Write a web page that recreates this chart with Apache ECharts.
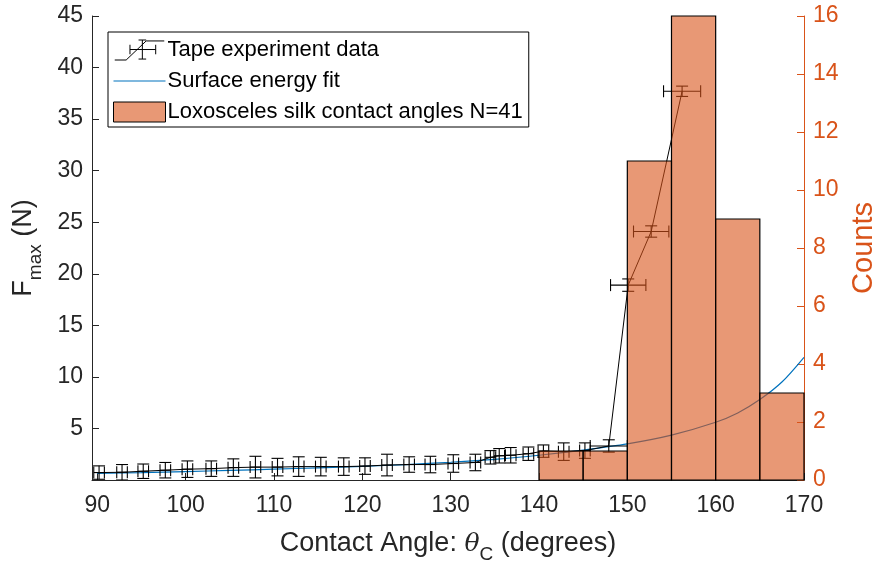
<!DOCTYPE html>
<html>
<head>
<meta charset="utf-8">
<script src="https://cdn.jsdelivr.net/npm/echarts@6/dist/echarts.min.js"></script>
<style>
  html, body { margin: 0; padding: 0; background: #fff; }
  #chart { width: 879px; height: 565px; }
</style>
</head>
<body>
<div id="chart"></div>
<script>
// Tape peel experiments: contact angle (deg) vs. maximum force (N)
const tapeX    = [90.2, 92.8, 95.2, 97.7, 100.2, 102.9, 105.4, 107.9, 110.4, 112.8, 115.3, 117.9, 120.3, 122.8, 125.3, 127.7, 130.3, 132.8, 134.5, 135.5, 136.8, 138.8, 140.5, 142.8, 145.2, 147.9, 150.1, 152.7, 156.2];
const tapeY    = [0.72, 0.75, 0.85, 0.95, 1.05, 1.1, 1.2, 1.25, 1.25, 1.3, 1.3, 1.3, 1.35, 1.45, 1.5, 1.5, 1.6, 1.7, 2.2, 2.35, 2.4, 2.55, 2.8, 2.75, 2.85, 3.3, 18.9, 24.1, 37.7];
const tapeXErr = [0.6, 0.6, 0.6, 0.6, 0.6, 0.6, 0.6, 0.6, 0.6, 0.6, 0.6, 0.6, 0.6, 0.6, 0.6, 0.6, 0.6, 0.6, 0.6, 0.6, 0.6, 0.6, 0.6, 0.6, 0.6, 2.1, 2.0, 2.0, 2.1];
const tapeYErr = [0.65, 0.75, 0.7, 0.75, 0.8, 0.75, 0.85, 1.05, 0.85, 0.95, 0.9, 0.85, 0.8, 1.05, 0.75, 0.8, 0.85, 0.8, 0.65, 0.7, 0.75, 0.65, 0.6, 0.85, 0.75, 0.6, 0.6, 0.55, 0.5];

// Surface energy model curve
const fitX = [90, 95, 100, 105, 110, 115, 120, 125, 130, 135, 140, 145, 150, 155, 160, 162.5, 165, 167.5, 170];
const fitY = [0.65, 0.72, 0.82, 0.93, 1.05, 1.18, 1.32, 1.5, 1.72, 2.0, 2.4, 2.9, 3.5, 4.35, 5.6, 6.5, 7.8, 9.5, 11.9];

// Loxosceles silk contact angle histogram
const binEdges = [140, 145, 150, 155, 160, 165, 170];
const counts   = [1, 1, 11, 16, 9, 3];

// Axis ticks
const xTicks = [90, 100, 110, 120, 130, 140, 150, 160, 170];

const FONT = '"Liberation Sans", Arial, Helvetica, sans-serif';
const INK = '#262626';
const ORANGE = '#D95319';
const BLUE = '#0072BD';
const BAR_FILL = 'rgba(217,83,25,0.6)';

const tapeData = tapeX.map((x, i) => [x, tapeY[i], tapeXErr[i], tapeYErr[i]]);
const fitData = fitX.map((x, i) => [x, fitY[i]]);
const histData = counts.map((c, i) => [binEdges[i], binEdges[i + 1], c]);

const chart = echarts.init(document.getElementById('chart'), null, { renderer: 'canvas' });

function renderErrorBar(params, api) {
  const x = api.value(0), y = api.value(1), xe = api.value(2), ye = api.value(3);
  const c = api.coord([x, y]);
  const l = api.coord([x - xe, y]);
  const r = api.coord([x + xe, y]);
  const t = api.coord([x, y + ye]);
  const b = api.coord([x, y - ye]);
  const cap = 6;
  const st = { stroke: '#000', lineWidth: 1.1, fill: null };
  const seg = (x1, y1, x2, y2) => ({ type: 'line', shape: { x1, y1, x2, y2 }, style: st });
  return {
    type: 'group',
    children: [
      seg(c[0], t[1], c[0], b[1]),
      seg(c[0] - cap, t[1], c[0] + cap, t[1]),
      seg(c[0] - cap, b[1], c[0] + cap, b[1]),
      seg(l[0], c[1], r[0], c[1]),
      seg(l[0], c[1] - cap, l[0], c[1] + cap),
      seg(r[0], c[1] - cap, r[0], c[1] + cap)
    ]
  };
}

function renderBin(params, api) {
  const p0 = api.coord([api.value(0), api.value(2)]);
  const p1 = api.coord([api.value(1), 0]);
  return {
    type: 'rect',
    shape: { x: p0[0], y: p0[1], width: p1[0] - p0[0], height: p1[1] - p0[1] },
    style: { fill: BAR_FILL, stroke: '#000', lineWidth: 1.2 }
  };
}

const option = {
  animation: false,
  backgroundColor: '#fff',
  textStyle: { fontFamily: FONT },
  grid: { left: 92, right: 75, top: 16, bottom: 85, outerBoundsMode: 'none' },
  legend: {
    orient: 'vertical',
    left: 108,
    top: 32,
    padding: [7, 6, 4, 5],
    itemGap: 9,
    itemWidth: 52,
    itemHeight: 20,
    borderColor: '#000',
    borderWidth: 1,
    borderRadius: 0,
    backgroundColor: '#fff',
    textStyle: { fontFamily: FONT, fontSize: 22, color: '#000', lineHeight: 22, padding: [0, 0, 0, -3] },
    data: [
      {
        name: 'Tape experiment data',
        icon: 'path://M0,21L12,21L33,1L52,1M29,0L29,20M25,0L33,0M25,20L33,20M16,10L43,10M16,5L16,15M43,5L43,15',
        itemStyle: { color: 'rgba(0,0,0,0)', borderColor: '#000', borderWidth: 1 }
      },
      {
        name: 'Surface energy fit',
        icon: 'path://M0,0L52,0L52,1.2L0,1.2Z',
        itemStyle: { color: BLUE, borderWidth: 0 }
      },
      {
        name: 'Loxosceles silk contact angles N=41',
        icon: 'rect',
        itemStyle: { color: BAR_FILL, borderColor: '#000', borderWidth: 1 }
      }
    ]
  },
  xAxis: {
    type: 'value',
    min: 89.4,
    max: 170,
    name: '{n|Contact Angle: }{i|θ}{s|C}{n| (degrees)}',
    nameLocation: 'middle',
    nameGap: 57,
    nameTextStyle: {
      color: INK,
      rich: {
        n: { fontFamily: FONT, fontSize: 27, color: INK, lineHeight: 27, verticalAlign: 'bottom', padding: [0, 0, 7, 0] },
        i: { fontFamily: 'DejaVu Serif, serif', fontStyle: 'italic', fontSize: 25, color: INK, lineHeight: 27, verticalAlign: 'bottom', padding: [0, 0, 7, 0] },
        s: { fontFamily: FONT, fontSize: 19, color: INK, lineHeight: 19, verticalAlign: 'bottom' }
      }
    },
    axisLine: { show: true, lineStyle: { color: INK, width: 1 } },
    axisTick: { show: true, inside: true, length: 7, customValues: xTicks, lineStyle: { color: INK } },
    axisLabel: { customValues: xTicks, fontFamily: FONT, fontSize: 23, color: INK, margin: 14 },
    splitLine: { show: false }
  },
  yAxis: [
    {
      type: 'value',
      min: 0,
      max: 45,
      interval: 5,
      position: 'left',
      name: '{n|F}{s|max}{n| (N)}',
      nameLocation: 'middle',
      nameRotate: 90,
      nameGap: 47,
      nameTextStyle: {
        color: INK,
        rich: {
          n: { fontFamily: FONT, fontSize: 27, color: INK, lineHeight: 27, verticalAlign: 'bottom', padding: [0, 0, 8, 0] },
          s: { fontFamily: FONT, fontSize: 19, color: INK, lineHeight: 19, verticalAlign: 'bottom' }
        }
      },
      axisLine: { show: true, lineStyle: { color: INK, width: 1 } },
      axisTick: { show: true, inside: true, length: 7, lineStyle: { color: INK } },
      axisLabel: {
        fontFamily: FONT, fontSize: 23, color: INK, margin: 9,
        formatter: v => (v === 0 ? '' : String(v))
      },
      splitLine: { show: false }
    },
    {
      type: 'value',
      min: 0,
      max: 16,
      interval: 2,
      position: 'right',
      name: 'Counts',
      nameLocation: 'middle',
      nameRotate: 90,
      nameGap: 44,
      nameTextStyle: { fontFamily: FONT, fontSize: 29, color: ORANGE },
      axisLine: { show: true, lineStyle: { color: ORANGE, width: 1 } },
      axisTick: { show: true, inside: true, length: 7, lineStyle: { color: ORANGE } },
      axisLabel: { fontFamily: FONT, fontSize: 23, color: ORANGE, margin: 9 },
      splitLine: { show: false }
    }
  ],
  series: [
    {
      name: 'Surface energy fit',
      type: 'line',
      data: fitData,
      smooth: 0.3,
      symbol: 'none',
      lineStyle: { color: BLUE, width: 1.2 },
      itemStyle: { color: BLUE },
      z: 1
    },
    {
      name: 'Tape experiment data',
      type: 'line',
      data: tapeData.map(d => [d[0], d[1]]),
      symbol: 'none',
      lineStyle: { color: '#000', width: 1 },
      itemStyle: { color: '#000' },
      z: 2
    },
    {
      name: 'Tape experiment data',
      type: 'custom',
      data: tapeData,
      encode: { x: 0, y: 1 },
      renderItem: renderErrorBar,
      clip: true,
      itemStyle: { color: '#000' },
      z: 2
    },
    {
      name: 'Loxosceles silk contact angles N=41',
      type: 'custom',
      yAxisIndex: 1,
      data: histData,
      encode: { x: [0, 1], y: 2 },
      renderItem: renderBin,
      itemStyle: { color: BAR_FILL },
      z: 3
    }
  ]
};

chart.setOption(option);
</script>
</body>
</html>
